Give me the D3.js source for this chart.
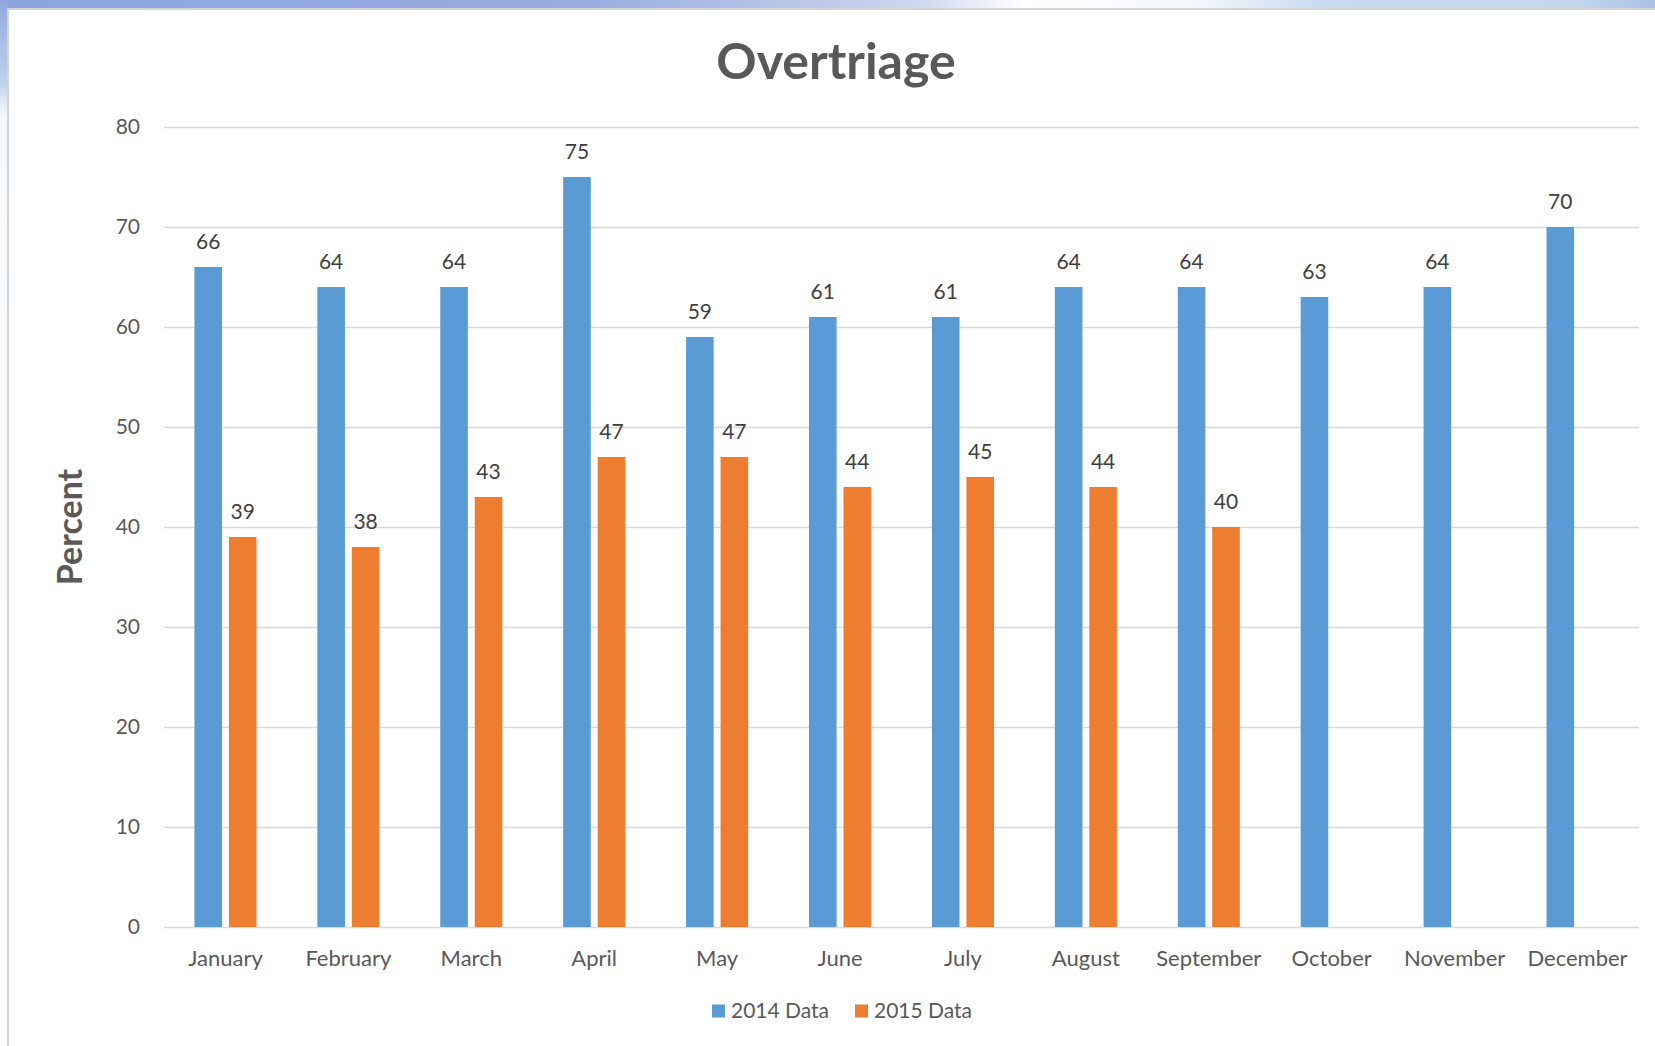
<!DOCTYPE html>
<html>
<head>
  <meta charset="utf-8">
  <title>Overtriage</title>
  <script src="https://cdnjs.cloudflare.com/ajax/libs/d3/7.8.5/d3.min.js"></script>
  <style>
    body { margin: 0; background: #fff; }
    text { font-family: Lato, "Open Sans", sans-serif; }
  </style>
</head>
<body>
  <div id="viz"></div>
  <script>
    // chart data
    var months = ["January", "February", "March", "April", "May", "June",
                  "July", "August", "September", "October", "November", "December"];
    var data2014 = [66, 64, 64, 75, 59, 61, 61, 64, 64, 63, 64, 70];
    var data2015 = [39, 38, 43, 47, 47, 44, 45, 44, 40, null, null, null];
    var seriesNames = ["2014 Data", "2015 Data"];
    var yTicks = [0, 10, 20, 30, 40, 50, 60, 70, 80];

    var width = 1655,
        height = 1046,
        plotLeft = 164, plotRight = 1639,
        plotTop = 127, plotBottom = 927;

    var colors = ["#5B9BD5", "#ED7D31"],
        textColor = "#595959",
        gridColor = "#D9D9D9";

    var svg = d3.select("#viz").append("svg")
        .attr("width", width)
        .attr("height", height);

    // slide-like backdrop: blue strip on top and left, white panel with grey edge
    var defs = svg.append("defs");
    var gTop = defs.append("linearGradient").attr("id", "gTop");
    gTop.selectAll("stop")
        .data([[0, "#8CA5DE"], [0.35, "#97ACE0"], [0.55, "#C9D6EE"], [0.62, "#FFFFFF"],
               [0.72, "#F4F8FC"], [0.8, "#C6DBF1"], [0.95, "#C2D7EE"], [1, "#A9C2E6"]])
        .enter().append("stop")
        .attr("offset", function (d) { return d[0]; })
        .attr("stop-color", function (d) { return d[1]; });
    var gLeft = defs.append("linearGradient").attr("id", "gLeft")
        .attr("x1", 0).attr("x2", 0).attr("y1", 0).attr("y2", 1);
    gLeft.selectAll("stop")
        .data([[0, "#8CA5DE"], [0.03, "#A3B9E4"], [0.08, "#BDD3EC"], [0.11, "#F6F9FC"], [1, "#FFFFFF"]])
        .enter().append("stop")
        .attr("offset", function (d) { return d[0]; })
        .attr("stop-color", function (d) { return d[1]; });

    svg.append("rect").attr("x", 0).attr("y", 0).attr("width", width).attr("height", 9)
        .attr("fill", "url(#gTop)");
    svg.append("rect").attr("x", 0).attr("y", 0).attr("width", 8).attr("height", height)
        .attr("fill", "url(#gLeft)");
    svg.append("rect").attr("x", 8).attr("y", 9).attr("width", width).attr("height", height)
        .attr("fill", "#fff").attr("stroke", "#D4D4D4").attr("stroke-width", 2);

    // scales
    var x0 = d3.scaleBand().domain(months).range([plotLeft, plotRight])
        .paddingInner(0.495).paddingOuter(0.2475);
    var x1 = d3.scaleBand().domain(seriesNames).range([0, x0.bandwidth()])
        .paddingInner(0.2);
    var y = d3.scaleLinear().domain([0, 80]).range([plotBottom, plotTop]);

    // gridlines
    svg.append("g").selectAll("line")
        .data(yTicks)
        .enter().append("line")
        .attr("x1", plotLeft).attr("x2", plotRight)
        .attr("y1", function (d) { return y(d) + 0.5; })
        .attr("y2", function (d) { return y(d) + 0.5; })
        .attr("stroke", gridColor)
        .attr("stroke-width", 1.3);

    // y tick labels
    svg.append("g").selectAll("text")
        .data(yTicks)
        .enter().append("text")
        .attr("x", 140)
        .attr("y", function (d) { return y(d); })
        .attr("dy", "0.35em")
        .attr("text-anchor", "end")
        .style("font-size", "21px")
        .attr("fill", textColor)
        .text(function (d) { return d; });

    // bars
    var rows = months.map(function (m, i) {
      return { month: m, values: [
        { key: seriesNames[0], value: data2014[i], color: colors[0] },
        { key: seriesNames[1], value: data2015[i], color: colors[1] }
      ].filter(function (v) { return v.value != null; }) };
    });

    var groups = svg.append("g").selectAll("g")
        .data(rows)
        .enter().append("g")
        .attr("transform", function (d) { return "translate(" + x0(d.month) + ",0)"; });

    groups.selectAll("rect")
        .data(function (d) { return d.values; })
        .enter().append("rect")
        .attr("x", function (d) { return x1(d.key); })
        .attr("y", function (d) { return y(d.value); })
        .attr("width", x1.bandwidth())
        .attr("height", function (d) { return y(0) - y(d.value); })
        .attr("fill", function (d) { return d.color; });

    // value labels
    groups.selectAll("text")
        .data(function (d) { return d.values; })
        .enter().append("text")
        .attr("x", function (d) { return x1(d.key) + x1.bandwidth() / 2; })
        .attr("y", function (d) { return y(d.value) - 18; })
        .attr("text-anchor", "middle")
        .style("font-size", "21px")
        .attr("fill", "#404040")
        .text(function (d) { return d.value; });

    // month labels
    svg.append("g").selectAll("text")
        .data(months)
        .enter().append("text")
        .attr("x", function (d) { return x0(d) + x0.bandwidth() / 2; })
        .attr("y", 966)
        .attr("text-anchor", "middle")
        .style("font-size", "22px")
        .attr("fill", textColor)
        .text(function (d) { return d; });

    // title
    svg.append("text")
        .attr("x", 836)
        .attr("y", 79)
        .attr("text-anchor", "middle")
        .style("font-size", "50px")
        .style("font-weight", "bold")
        .attr("fill", textColor)
        .text("Overtriage");

    // y axis title
    svg.append("text")
        .attr("transform", "translate(82,527) rotate(-90)")
        .attr("text-anchor", "middle")
        .style("font-size", "34px")
        .style("font-weight", "bold")
        .attr("fill", textColor)
        .text("Percent");

    // legend
    var legend = svg.append("g").selectAll("g")
        .data(seriesNames)
        .enter().append("g")
        .attr("transform", function (d, i) { return "translate(" + (712 + i * 143) + ",1011)"; });
    legend.append("rect")
        .attr("x", 0).attr("y", -6.5)
        .attr("width", 13).attr("height", 13)
        .attr("fill", function (d, i) { return colors[i]; });
    legend.append("text")
        .attr("x", 19)
        .attr("dy", "0.35em")
        .style("font-size", "21px")
        .attr("fill", textColor)
        .text(function (d) { return d; });
  </script>
</body>
</html>
